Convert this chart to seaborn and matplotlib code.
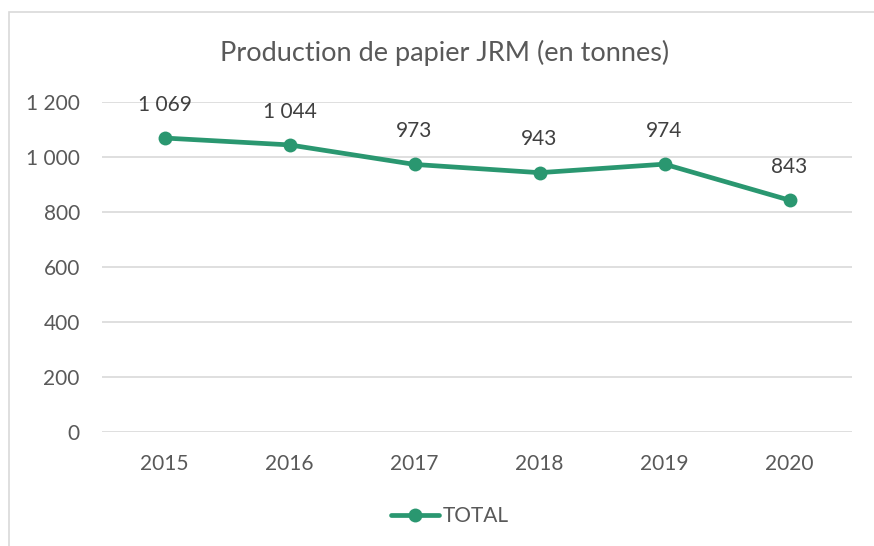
import matplotlib
matplotlib.use("Agg")
import matplotlib.pyplot as plt
import matplotlib.ticker as mticker
from matplotlib.patches import Rectangle
import pandas as pd
import seaborn as sns

# data
years = ["2015", "2016", "2017", "2018", "2019", "2020"]
total = [1069, 1044, 973, 943, 974, 843]

df = pd.DataFrame({"annee": years, "TOTAL": total})

sns.set_theme(style="white")
plt.rcParams["font.family"] = ["Lato", "DejaVu Sans"]

green = "#2A9770"
grey = "#595959"

fig = plt.figure(figsize=(8.74, 5.46), dpi=100)
ax = fig.add_axes([102 / 874, 1 - 432 / 546, 750 / 874, 330 / 546])

sns.lineplot(data=df, x="annee", y="TOTAL", ax=ax, color=green, linewidth=3.4,
             marker="o", markersize=10, markeredgewidth=0, label="TOTAL", sort=False)

# data labels
for x, v in zip(years, total):
    lbl = f"{v:,}".replace(",", " ")
    ax.annotate(lbl, (x, v), xytext=(0, 24), textcoords="offset points",
                ha="center", va="center", fontsize=15, color="#404040")

ax.set_ylim(0, 1200)
ax.set_xlim(-0.5, len(years) - 0.5)
ax.yaxis.set_major_locator(mticker.MultipleLocator(200))
ax.yaxis.set_major_formatter(mticker.FuncFormatter(lambda v, p: f"{int(v):,}".replace(",", " ")))
ax.grid(axis="y", color="#D9D9D9", linewidth=1.2)
ax.set_axisbelow(True)
for s in ax.spines.values():
    s.set_visible(False)
ax.tick_params(axis="both", length=0, labelsize=15, colors=grey)
ax.tick_params(axis="y", pad=16)
ax.tick_params(axis="x", pad=16)
ax.set_xlabel("")
ax.set_ylabel("")

fig.text(445 / 874, 1 - 53 / 546, "Production de papier JRM (en tonnes)",
         ha="center", va="center", fontsize=19.5, color=grey)

leg = ax.legend(loc="center", bbox_to_anchor=(450 / 874, 1 - 516 / 546),
                bbox_transform=fig.transFigure, frameon=False, fontsize=15,
                handlelength=2.3, handletextpad=0.2)
for t in leg.get_texts():
    t.set_color(grey)

# chart border (only left and top visible in the crop)
fig.patches.append(Rectangle((9 / 874, -0.1), 1.2, 1 - 12 / 546 + 0.1,
                             transform=fig.transFigure, fill=False,
                             edgecolor="#D9D9D9", linewidth=1.2))

fig.savefig("out.png", dpi=100)
